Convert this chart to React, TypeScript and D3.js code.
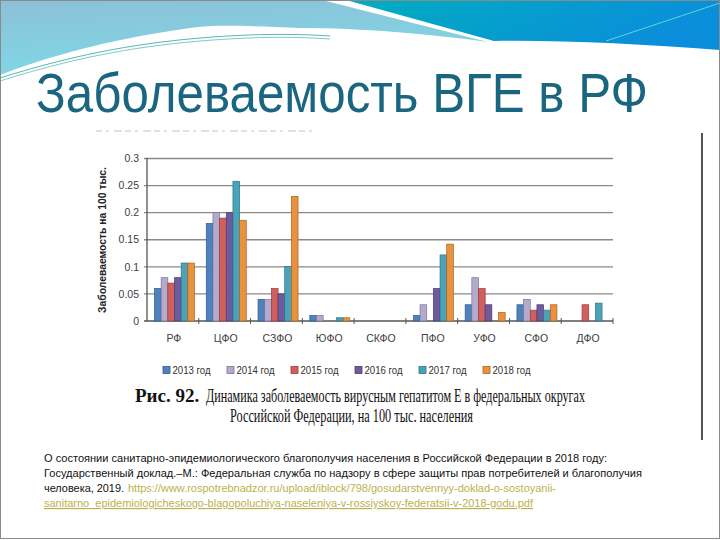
import React from "react";
import * as d3 from "d3";

const categories = ["РФ", "ЦФО", "СЗФО", "ЮФО", "СКФО", "ПФО", "УФО", "СФО", "ДФО"];
const years = ["2013 год", "2014 год", "2015 год", "2016 год", "2017 год", "2018 год"];
const v2013 = [0.06, 0.18, 0.04, 0.01, 0, 0.01, 0.03, 0.03, 0];
const v2014 = [0.08, 0.2, 0.04, 0.01, 0, 0.03, 0.08, 0.04, 0];
const v2015 = [0.07, 0.19, 0.06, 0, 0, 0, 0.06, 0.02, 0.03];
const v2016 = [0.08, 0.2, 0.05, 0, 0, 0.06, 0.03, 0.03, 0];
const v2017 = [0.107, 0.258, 0.101, 0.006, 0, 0.122, 0, 0.02, 0.033];
const v2018 = [0.107, 0.186, 0.23, 0.006, 0, 0.142, 0.016, 0.03, 0];
const seriesValues = [v2013, v2014, v2015, v2016, v2017, v2018];
const yTicks = [0, 0.05, 0.1, 0.15, 0.2, 0.25, 0.3];
const yTickLabels = ["0", "0.05", "0.1", "0.15", "0.2", "0.25", "0.3"];

const fills = ["#4f81bd", "#b4aacb", "#d0605d", "#6e5a9c", "#4aa3b8", "#e8913e"];
const strokes = ["#2c5a8f", "#7d7399", "#9a3b39", "#4a3a75", "#2d7585", "#b0651e"];

export default function App() {
  const x = d3.scaleBand<string>().domain(categories).range([147, 613]).paddingInner(0).paddingOuter(0);
  const xs = d3.scaleBand<string>().domain(years).range([7.5, 47.5]).padding(0);
  const y = d3.scaleLinear().domain([0, 0.3]).range([321, 158.5]);
  const bw = x.bandwidth();
  const sans = "'Liberation Sans', Arial, sans-serif";
  const serif = "'Liberation Serif', 'Times New Roman', serif";
  const link = "#b9b24a";

  return (
    <svg width={720} height={540} style={{ position: "absolute", left: 0, top: 0, background: "#fff" }}>
      <defs>
        <linearGradient id="lg" x1="0" y1="0" x2="0.3" y2="1">
          <stop offset="0" stopColor="#8cc0d8" />
          <stop offset="1" stopColor="#7fd8e6" />
        </linearGradient>
        <linearGradient id="rg" x1="0" y1="0" x2="1" y2="0.3">
          <stop offset="0" stopColor="#00aebf" />
          <stop offset="1" stopColor="#0a8edb" />
        </linearGradient>
      </defs>
      <rect x={0} y={0} width={720} height={540} fill="#fff" />
      {/* header decoration */}
      <path d="M0,0 L322,0 L488,42 C430,34 360,28 300,28 C250,26 215,24 190,28 C120,38 60,52 0,75 Z" fill="url(#lg)" />
      <path d="M346,0 L720,0 L720,50 C640,44 560,40 494,41 Z" fill="url(#rg)" />
      <path d="M720,3 L606,41" stroke="#7fe0e0" strokeWidth={0.8} fill="none" />
      <path d="M0,78 C70,56 130,44 200,38 C260,33 300,34 330,36" stroke="#2aa5a5" strokeWidth={0.8} fill="none" />
      <path d="M0,81 C70,59 130,47 200,41 C260,36 300,37 330,39" stroke="#2aa5a5" strokeWidth={0.6} fill="none" />

      {/* title */}
      <text x={36} y={112} fontFamily={sans} fontSize={56} fill="#1a6680" textLength={612} lengthAdjust="spacingAndGlyphs">
        Заболеваемость ВГЕ в РФ
      </text>

      {/* faint cut-off line */}
      <line x1={96} x2={315} y1={131} y2={131} stroke="#d8d8d8" strokeWidth={1.5} strokeDasharray="6 4 3 5 8 3" />

      {/* right edge of pasted image */}
      <line x1={702} x2={702} y1={133} y2={440} stroke="#555" strokeWidth={2} />

      {/* gridlines */}
      {yTicks.map((t, i) => (
        <g key={"g" + i}>
          {i > 0 && <line x1={144} x2={613} y1={y(t)} y2={y(t)} stroke="#8a8a8a" strokeWidth={1.3} />}
          <text x={139} y={y(t)} dy="0.35em" textAnchor="end" fontFamily={sans} fontSize={10.5} fill="#404040">
            {yTickLabels[i]}
          </text>
        </g>
      ))}
      {/* axes */}
      <line x1={147} x2={147} y1={158} y2={321} stroke="#555" strokeWidth={1.3} />
      <line x1={144} x2={613} y1={321} y2={321} stroke="#555" strokeWidth={1.5} />
      {categories.map((c, i) => (
        <line key={"t" + i} x1={(x(c) as number) + bw} x2={(x(c) as number) + bw} y1={318} y2={324} stroke="#555" strokeWidth={1} />
      ))}

      {/* bars */}
      {seriesValues.map((vals, si) =>
        vals.map((v, ci) =>
          v > 0 ? (
            <rect
              key={si + "-" + ci}
              x={(x(categories[ci]) as number) + (xs(years[si]) as number)}
              y={y(v)}
              width={xs.bandwidth()}
              height={y(0) - y(v)}
              fill={fills[si]}
              stroke={strokes[si]}
              strokeWidth={0.7}
            />
          ) : null
        )
      )}

      {/* x labels */}
      {categories.map((c, i) => (
        <text key={"xl" + i} x={(x(c) as number) + bw / 2 + 1} y={342} textAnchor="middle" fontFamily={sans} fontSize={10.5} fill="#404040">
          {c}
        </text>
      ))}

      {/* y title */}
      <text
        transform="translate(106,240) rotate(-90)"
        textAnchor="middle"
        fontFamily={sans}
        fontSize={10}
        fontWeight="bold"
        fill="#222"
        textLength={146}
        lengthAdjust="spacingAndGlyphs"
      >
        Заболеваемость на 100 тыс.
      </text>

      {/* legend */}
      {years.map((yr, i) => (
        <g key={"lg" + i} transform={`translate(${166.5 + i * 64},370)`}>
          <rect x={-3.5} y={-3.5} width={7} height={7} fill={fills[i]} stroke={strokes[i]} strokeWidth={0.8} />
          <text x={6} y={0} dy="0.35em" fontFamily={sans} fontSize={10} fill="#333" textLength={38} lengthAdjust="spacingAndGlyphs">
            {yr}
          </text>
        </g>
      ))}

      {/* caption */}
      <text x={135} y={402} fontFamily={serif} fontSize={19} fontWeight="bold" fill="#111">
        Рис. 92.
      </text>
      <text x={206} y={402} fontFamily={serif} fontSize={19} fill="#111" textLength={379} lengthAdjust="spacingAndGlyphs">
        Динамика заболеваемость вирусным гепатитом Е в федеральных округах
      </text>
      <text x={230} y={422} fontFamily={serif} fontSize={19} fill="#111" textLength={243} lengthAdjust="spacingAndGlyphs">
        Российской Федерации, на 100 тыс. населения
      </text>

      {/* footnote */}
      <g fontFamily={sans} fontSize={11.5} fill="#111">
        <text x={44} y={462} textLength={563} lengthAdjust="spacingAndGlyphs">
          О состоянии санитарно-эпидемиологического благополучия населения в Российской Федерации в 2018 году:
        </text>
        <text x={44} y={477} textLength={598} lengthAdjust="spacingAndGlyphs">
          Государственный доклад.–М.: Федеральная служба по надзору в сфере защиты прав потребителей и благополучия
        </text>
        <text x={44} y={492} textLength={80} lengthAdjust="spacingAndGlyphs">
          человека, 2019.
        </text>
        <text x={128} y={492} fill={link} textLength={428} lengthAdjust="spacingAndGlyphs">
          https://www.rospotrebnadzor.ru/upload/iblock/798/gosudarstvennyy-doklad-o-sostoyanii-
        </text>
        <text x={44} y={507} fill={link} textDecoration="underline" textLength={489} lengthAdjust="spacingAndGlyphs">
          sanitarno_epidemiologicheskogo-blagopoluchiya-naseleniya-v-rossiyskoy-federatsii-v-2018-godu.pdf
        </text>
      </g>

      {/* slide border */}
      <rect x={0.5} y={0.5} width={719} height={538} fill="none" stroke="#8a8a8a" strokeWidth={1} />
    </svg>
  );
}
